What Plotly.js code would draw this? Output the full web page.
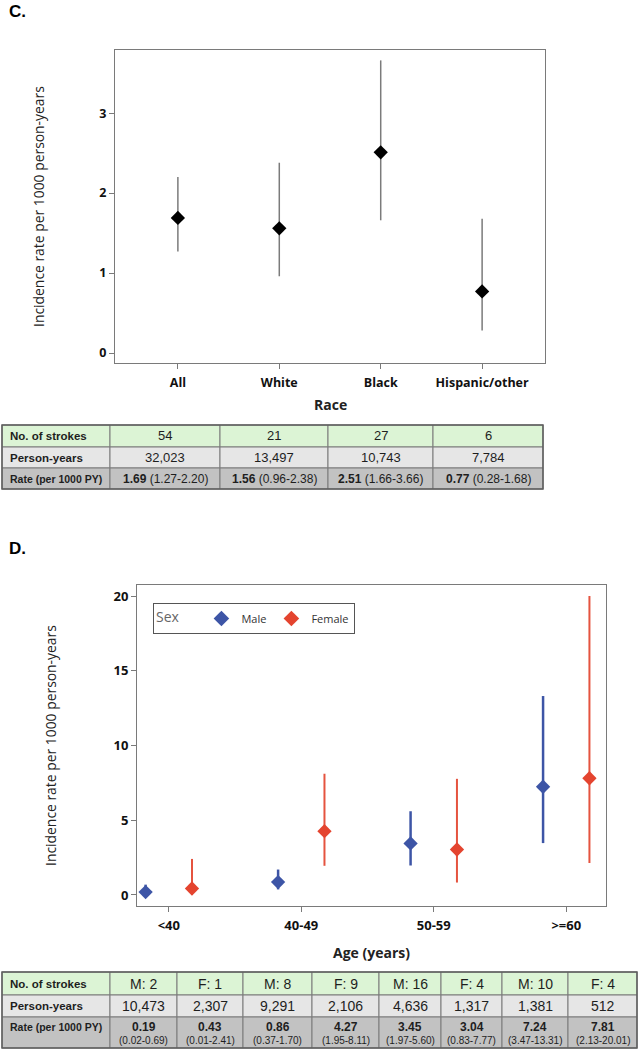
<!DOCTYPE html>
<html>
<head>
<meta charset="utf-8">
<script src="https://cdn.plot.ly/plotly-3.0.1.min.js"></script>
<style>html,body{margin:0;padding:0;background:#fff;}#chart{width:639px;height:1050px;}</style>
</head>
<body>
<div id="chart"></div>
<script>
// ---------- Panel C data ----------
const raceGroups  = ['All', 'White', 'Black', 'Hispanic/other'];
const raceRate    = [1.69, 1.56, 2.51, 0.77];
const raceLower   = [1.27, 0.96, 1.66, 0.28];
const raceUpper   = [2.20, 2.38, 3.66, 1.68];
const raceStrokes = ['54', '21', '27', '6'];
const racePY      = ['32,023', '13,497', '10,743', '7,784'];

// ---------- Panel D data ----------
const ageGroups   = ['<40', '40-49', '50-59', '>=60'];
const maleRate    = [0.19, 0.86, 3.45, 7.24];
const maleLower   = [0.02, 0.37, 1.97, 3.47];
const maleUpper   = [0.69, 1.70, 5.60, 13.31];
const femaleRate  = [0.43, 4.27, 3.04, 7.81];
const femaleLower = [0.01, 1.95, 0.83, 2.13];
const femaleUpper = [2.41, 8.11, 7.77, 20.01];
const maleStrokes   = [2, 8, 16, 10];
const femaleStrokes = [1, 9, 4, 4];
const malePY   = ['10,473', '9,291', '4,636', '1,381'];
const femalePY = ['2,307', '2,106', '1,317', '512'];

const rowLabels = ['No. of strokes', 'Person-years', 'Rate (per 1000 PY)'];

// ---------- helpers ----------
const W = 639, H = 1050;
const px = v => v / W;
const py = v => 1 - v / H;
const fmt = v => v.toFixed(2);
const plus = (u, r) => u.map((v, i) => v - r[i]);
const minus = (l, r) => r.map((v, i) => v - l[i]);

const BLUE = '#3d55a6', RED = '#e4442f';
const GREEN = '#dcf4d5', LGRAY = '#e6e6e6', DGRAY = '#c2c2c2';
const TXT = '#1e1e1e';
const ARIAL = 'Liberation Sans, Arial, sans-serif';
const NARROW = 'Liberation Sans Narrow, Liberation Sans, Arial, sans-serif';
const TICKFONT = {family: 'Open Sans, sans-serif', size: 12.5, color: '#111', weight: 'bold'};

// ---------- traces ----------
const traceC = {
  type: 'scatter', mode: 'markers', x: raceGroups, y: raceRate,
  xaxis: 'x', yaxis: 'y', showlegend: false,
  marker: {symbol: 'diamond', size: 11, color: '#000'},
  error_y: {type: 'data', symmetric: false, array: plus(raceUpper, raceRate),
            arrayminus: minus(raceLower, raceRate), color: '#7b7b7b', thickness: 1.5, width: 0}
};
const traceMale = {
  type: 'scatter', mode: 'markers', name: 'Male', x: ageGroups, y: maleRate,
  xaxis: 'x2', yaxis: 'y2', offsetgroup: 'm',
  marker: {symbol: 'diamond', size: 11, color: BLUE},
  error_y: {type: 'data', symmetric: false, array: plus(maleUpper, maleRate),
            arrayminus: minus(maleLower, maleRate), color: BLUE, thickness: 2.5, width: 0}
};
const traceFemale = {
  type: 'scatter', mode: 'markers', name: 'Female', x: ageGroups, y: femaleRate,
  xaxis: 'x2', yaxis: 'y2', offsetgroup: 'f',
  marker: {symbol: 'diamond', size: 11, color: RED},
  error_y: {type: 'data', symmetric: false, array: plus(femaleUpper, femaleRate),
            arrayminus: minus(femaleLower, femaleRate), color: '#e5533f', thickness: 2, width: 0}
};

// ---------- table drawing (shapes + annotations) ----------
const shapes = [];
const annotations = [];
function drawTable(left, top, colW, rowH, rows) {
  let y = top;
  rows.forEach((row, r) => {
    let x = left;
    row.cells.forEach((cell, c) => {
      const w = colW[c], h = rowH[r];
      shapes.push({type: 'rect', xref: 'paper', yref: 'paper', x0: px(x), x1: px(x + w),
        y0: py(y + h), y1: py(y), fillcolor: row.fill, line: {color: '#7a7a7a', width: 1}, layer: 'below'});
      (Array.isArray(cell) ? cell : [cell]).forEach(part => {
        const first = c === 0;
        annotations.push({text: part.text, xref: 'paper', yref: 'paper', showarrow: false,
          x: px(first ? x + 6 : x + w / 2), xanchor: first ? 'left' : 'center',
          y: py(y + (part.dy !== undefined ? part.dy : h / 2)), yanchor: 'middle',
          font: part.font});
      });
      x += w;
    });
    y += rowH[r];
  });
  const totalW = colW.reduce((a, b) => a + b, 0), totalH = rowH.reduce((a, b) => a + b, 0);
  shapes.push({type: 'rect', xref: 'paper', yref: 'paper', x0: px(left), x1: px(left + totalW),
    y0: py(top + totalH), y1: py(top), line: {color: '#5e5e5e', width: 1.5}});
}

const lblFont = s => ({family: ARIAL, size: s, color: TXT});

// Table C
drawTable(2, 425, [108, 110, 108, 105, 110], [22, 21, 21], [
  {fill: GREEN, cells: [{text: '<b>' + rowLabels[0] + '</b>', font: lblFont(11.5)}]
     .concat(raceStrokes.map(s => ({text: s, font: lblFont(13)})))},
  {fill: LGRAY, cells: [{text: '<b>' + rowLabels[1] + '</b>', font: lblFont(11.5)}]
     .concat(racePY.map(s => ({text: s, font: lblFont(13)})))},
  {fill: DGRAY, cells: [{text: '<b>' + rowLabels[2] + '</b>', font: lblFont(10.5)}]
     .concat(raceRate.map((v, i) => ({text: '<b>' + fmt(v) + '</b> (' + fmt(raceLower[i]) + '-' + fmt(raceUpper[i]) + ')', font: lblFont(12)})))}
]);

// Table D
const dStrokes = [], dPY = [], dRate = [];
ageGroups.forEach((g, i) => {
  dStrokes.push('M: ' + maleStrokes[i], 'F: ' + femaleStrokes[i]);
  dPY.push(malePY[i], femalePY[i]);
  dRate.push([maleRate[i], maleLower[i], maleUpper[i]], [femaleRate[i], femaleLower[i], femaleUpper[i]]);
});
const nFont = s => ({family: NARROW, size: s, color: TXT});
drawTable(2, 972, [108, 67, 66, 69, 67, 62, 61, 66, 69], [23, 22, 31], [
  {fill: GREEN, cells: [{text: '<b>' + rowLabels[0] + '</b>', font: lblFont(11.5)}]
     .concat(dStrokes.map(s => ({text: s, font: nFont(14)})))},
  {fill: LGRAY, cells: [{text: '<b>' + rowLabels[1] + '</b>', font: lblFont(11.5)}]
     .concat(dPY.map(s => ({text: s, font: nFont(14)})))},
  {fill: DGRAY, cells: [{text: '<b>' + rowLabels[2] + '</b>', font: lblFont(10.5), dy: 10}]
     .concat(dRate.map(v => [
        {text: '<b>' + fmt(v[0]) + '</b>', font: nFont(12), dy: 10},
        {text: '(' + fmt(v[1]) + '-' + fmt(v[2]) + ')', font: nFont(10), dy: 23}]))}
]);

// ---------- titles ----------
const ttl = (text, x, y, size, angle, bold) => ({text: bold ? '<b>' + text + '</b>' : text,
  x: px(x), y: py(y), xref: 'paper', yref: 'paper', xanchor: 'center', yanchor: 'middle',
  textangle: angle, showarrow: false, font: {family: 'Open Sans, sans-serif', size: size, color: '#222'}});
annotations.push(
  {text: '<b>C.</b>', x: px(7), y: py(0), xref: 'paper', yref: 'paper', xanchor: 'left', yanchor: 'top',
   showarrow: false, font: {family: ARIAL, size: 17, color: '#000'}},
  {text: '<b>D.</b>', x: px(7), y: py(537), xref: 'paper', yref: 'paper', xanchor: 'left', yanchor: 'top',
   showarrow: false, font: {family: ARIAL, size: 17, color: '#000'}},
  ttl('Incidence rate per 1000 person-years', 38, 207, 13.9, -90, false),
  ttl('Race', 330, 405, 14, 0, true),
  ttl('Incidence rate per 1000 person-years', 50, 746, 13.9, -90, false),
  ttl('Age (years)', 371, 952, 14, 0, true)
);

const axLine = {showline: true, mirror: true, linecolor: '#7a7a7a', linewidth: 1,
  ticks: 'outside', ticklen: 5, tickcolor: '#7a7a7a', showgrid: false, zeroline: false, tickfont: TICKFONT};

const layout = {
  width: W, height: H, margin: {l: 0, r: 0, t: 0, b: 0},
  paper_bgcolor: '#fff', plot_bgcolor: '#fff', showlegend: true,
  scattermode: 'group', scattergap: 0.3,
  xaxis: Object.assign({}, axLine, {domain: [px(115), px(545)], anchor: 'y', type: 'category',
    range: [-0.62, 3.62], ticklabelstandoff: 3}),
  yaxis: Object.assign({}, axLine, {domain: [py(363), py(50)], anchor: 'x',
    range: [-0.125, 3.79], tickvals: [0, 1, 2, 3]}),
  xaxis2: Object.assign({}, axLine, {domain: [px(137), px(606)], anchor: 'y2', type: 'category',
    range: [-0.24, 3.30], ticklabelstandoff: 2, tickfont: Object.assign({}, TICKFONT, {size: 13})}),
  yaxis2: Object.assign({}, axLine, {domain: [py(906), py(585)], anchor: 'x2',
    range: [-0.74, 20.74], tickvals: [0, 5, 10, 15, 20], tickfont: Object.assign({}, TICKFONT, {size: 13})}),
  legend: {orientation: 'h', x: px(153), y: py(603), xanchor: 'left', yanchor: 'top',
    bordercolor: '#555', borderwidth: 1, bgcolor: '#fff', itemsizing: 'constant',
    title: {text: 'Sex\u00a0\u00a0\u00a0\u00a0', font: {family: 'Open Sans, sans-serif', size: 14, color: '#666'}},
    font: {family: 'Open Sans, sans-serif', size: 11, color: '#333'}},
  shapes: shapes,
  annotations: annotations
};

Plotly.newPlot('chart', [traceC, traceMale, traceFemale], layout, {displayModeBar: false, staticPlot: true});
</script>
</body>
</html>
